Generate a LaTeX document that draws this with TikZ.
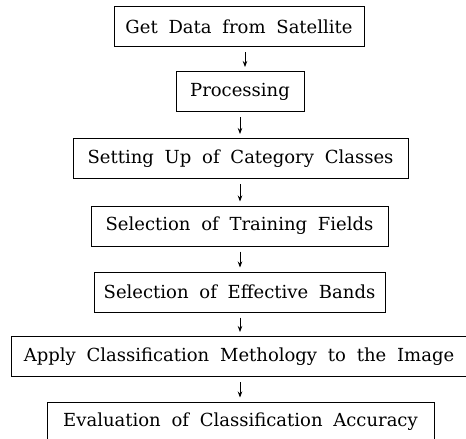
\documentclass[tikz,border=0pt]{standalone}
\usepackage{fontspec}
\setmainfont{DejaVu Serif}
\usetikzlibrary{arrows.meta}
\newcommand{\boxfont}{\fontsize{18}{21}\selectfont\spaceskip=0.6em\relax}
\begin{document}
\begin{tikzpicture}[x=1pt,y=-1pt,
  stepbox/.style={draw,line width=1pt,minimum height=40pt,inner sep=0pt,
    font=\boxfont},
  arr/.style={line width=0.8pt,-{Stealth[length=6pt,width=4.5pt]},shorten <=5pt,shorten >=4pt}]
\useasboundingbox (0,0) rectangle (466,439);
\node[stepbox,minimum width=250pt] (b1) at (239,26.5) {Get Data from Satellite};
\node[stepbox,minimum width=128pt] (b2) at (240,91.5) {Processing};
\node[stepbox,minimum width=335pt] (b3) at (240.5,158.5) {Setting Up of Category Classes};
\node[stepbox,minimum width=297pt] (b4) at (239.5,226) {Selection of Training Fields};
\node[stepbox,minimum width=291pt] (b5) at (239.5,292) {Selection of Effective Bands};
\node[stepbox,minimum width=456pt] (b6) at (239,356.5) {Apply Classification Methology to the Image};
\node[stepbox,minimum width=387pt] (b7) at (240.5,422) {Evaluation of Classification Accuracy};
\draw[arr] ([xshift=6pt]b1.south) -- ([xshift=5pt]b2.north);
\draw[arr] (b2.south) -- (b2.south |- b3.north);
\draw[arr] (b3.south -| b2.south) -- (b2.south |- b4.north);
\draw[arr] (b4.south -| b2.south) -- (b2.south |- b5.north);
\draw[arr] (b5.south -| b2.south) -- (b2.south |- b6.north);
\draw[arr] (b6.south -| b2.south) -- (b2.south |- b7.north);
\end{tikzpicture}
\end{document}
